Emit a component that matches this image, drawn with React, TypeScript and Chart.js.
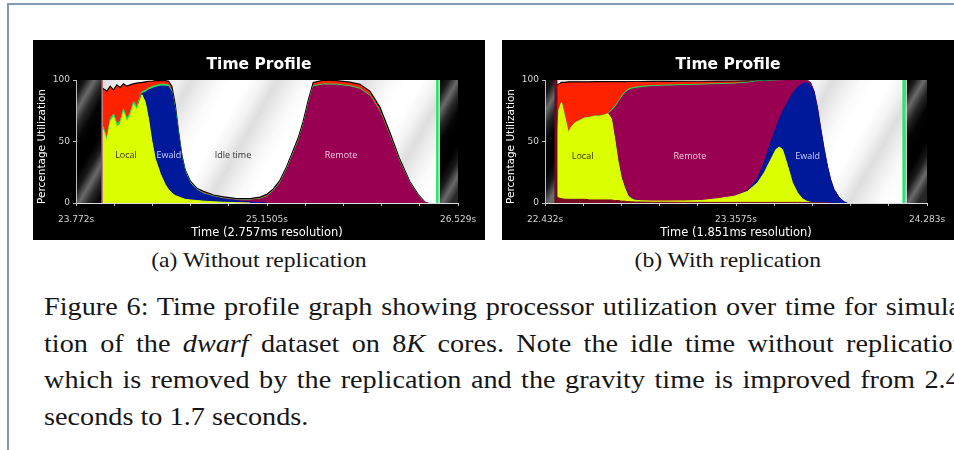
import React, { useEffect, useRef } from "react";
import { Chart, registerables } from "chart.js";

Chart.register(...registerables);

// ---------- (a) Without replication (2.757 ms bins), utilization in % ----------
const timesA = [
  23.967, 23.995, 24.019, 24.043, 24.067, 24.091, 24.115, 24.139, 24.163, 24.188,
  24.211, 24.248, 24.272, 24.296, 24.32, 24.344, 24.38, 24.416, 24.44, 24.464,
  24.488, 24.512, 24.536, 24.56, 24.596, 24.644, 24.692, 24.764, 24.836, 24.932,
  25.028, 25.1, 25.148, 25.196, 25.244, 25.292, 25.34, 25.376, 25.412, 25.448,
  25.484, 25.556, 25.652, 25.749, 25.821, 25.893, 25.965, 26.037, 26.109, 26.181,
  26.241, 26.289, 26.313,
];
const localA = [
  60, 50, 66, 70, 62, 64, 74, 66, 71, 80, 76, 88, 82, 68, 50, 36, 24, 15, 11, 8,
  6, 5, 4, 3, 2.5, 2, 1.5, 1, 0.6, 0.3, 0, 0, 0, 0, 0, 0, 0, 0, 0, 0,
  0, 0, 0, 0, 0, 0, 0, 0, 0, 0, 0, 0, 0,
];
const ewaldA = [
  0, 0, 0, 0, 0, 0, 0, 0, 0, 0, 0, 1, 8, 24, 43, 58, 71, 80, 83.5, 82,
  69, 50, 32, 22, 13.5, 8.5, 6, 4, 2.6, 1.5, 0.8, 0.4, 0, 0, 0, 0, 0, 0, 0, 0,
  0, 0, 0, 0, 0, 0, 0, 0, 0, 0, 0, 0, 0,
];
const remoteA = [
  0, 0, 0, 0, 0, 0, 0, 0, 0, 0, 0, 0, 0, 0, 0, 0, 0, 0, 0, 0,
  0, 0, 0, 0, 0, 0, 0, 0, 0.3, 0.5, 1.5, 2.8, 5, 9.5, 16, 27, 40, 50, 63, 80,
  94.5, 96, 95.8, 94.5, 92.5, 87, 74, 54, 33, 16, 6, 0.6, 0,
];
const otherA = [
  2.5, 2.5, 2.5, 2.5, 2.5, 2.5, 2.5, 2.5, 2.5, 2.5, 2.5, 1.5, 1.5, 1.5, 1.5, 1.5, 1.5, 1.5, 1.5, 1,
  1, 1, 1, 1, 0.8, 0.6, 0.5, 0.5, 0.4, 0.3, 0.3, 0.4, 0.5, 0.6, 0.7, 0.8, 0.8, 0.8, 0.8, 0.8,
  0.8, 0.8, 0.8, 0.8, 0.8, 0.8, 0.8, 0.7, 0.6, 0.5, 0.3, 0, 0,
];
const overheadA = [
  30.5, 38.5, 26.5, 19.5, 31.5, 27.5, 20.5, 26.5, 22.5, 14.5, 19, 7.5, 7, 5.5, 4.5, 4, 3, 3, 3, 4,
  4, 2, 2, 1, 1.2, 0.9, 1.5, 1, 1.1, 1.0, 1.0, 1.2, 1.5, 1.4, 1.8, 1.7, 2.2, 2.2, 2.7, 2.7,
  2.7, 3, 2.9, 2.9, 3.2, 3.2, 3.2, 2.8, 1.9, 1, 0.7, 0.2, 0,
];
const rangeA = [23.772, 26.529];
const runA = [23.959, 26.38];
const xTickLabelsA = ["23.772s", "25.1505s", "26.529s"];
const resolutionA = "2.757ms";
const noteTextsA = ["Local", "Ewald", "Idle time", "Remote"];
const noteTimesA = [24.133, 24.443, 24.905, 25.685];
const noteLevelsA = [39, 39, 39, 39];

// ---------- (b) With replication (1.851 ms bins), utilization in % ----------
const timesB = [
  22.488, 22.5, 22.512, 22.529, 22.545, 22.561, 22.577, 22.601, 22.625, 22.649,
  22.673, 22.698, 22.722, 22.738, 22.754, 22.77, 22.786, 22.802, 22.818, 22.834,
  22.851, 22.867, 22.899, 22.947, 23.028, 23.108, 23.189, 23.269, 23.35, 23.414,
  23.462, 23.494, 23.527, 23.551, 23.567, 23.583, 23.607, 23.631, 23.655, 23.679,
  23.7, 23.72, 23.736, 23.752, 23.768, 23.784, 23.8, 23.816, 23.832, 23.857,
  23.881, 23.897,
];
const miscB = [
  5, 4, 3.5, 3, 3, 3, 3, 3, 3, 2.5, 2.5, 2.5, 2.5, 2.5, 2.5, 2, 2, 1.5, 1.5, 1,
  1, 0.8, 0.8, 0.6, 0.6, 0.5, 0.5, 0.5, 0.5, 0.5, 0.5, 0.5, 0.5, 0.5, 0.5, 0.5, 0.5, 0.5, 0.5, 0.5,
  0.5, 0.3, 0.3, 0.2, 0.2, 0.2, 0.1, 0, 0, 0, 0, 0,
];
const localB = [
  40, 72, 78, 66, 54, 59, 62, 64, 66, 67, 68, 68, 69, 70, 66, 50, 32, 19, 11, 5,
  2.5, 1.5, 1, 1, 1, 1.2, 1.5, 3, 5, 9, 16, 24, 35, 43, 45, 43, 30, 16, 8, 3,
  1, 0.2, 0, 0, 0, 0, 0, 0, 0, 0, 0, 0,
];
const ewaldB = [
  0, 0, 0, 0, 0, 0, 0, 0, 0, 0, 0, 0, 0, 0, 0, 0.5, 1, 1, 1, 0.8,
  0.5, 0.3, 0, 0, 0, 0, 0, 0, 0, 0.5, 3.5, 8.5, 14.5, 17.5, 22.5, 30.5, 51.5, 72.5, 85.5, 93.5,
  96.5, 95.5, 89.7, 76.8, 60, 44, 30, 19, 11, 4.5, 1, 0,
];
const remoteB = [
  0, 0, 0, 0, 0, 0, 0, 0, 0, 0, 0, 0, 0, 0, 6, 25, 46, 64, 75.5, 84.5,
  88.5, 90.5, 92, 93, 93.5, 93.8, 93.8, 92.8, 91.2, 87.5, 78.7, 65.8, 49.1, 38.3, 31.4, 25.6, 17.6, 10.6, 5.6, 2.6,
  1.8, 1.5, 1, 0.8, 0.5, 0.3, 0.3, 0.2, 0.2, 0.1, 0, 0,
];
const otherB = [
  0.3, 0.3, 0.3, 0.3, 0.3, 0.3, 0.3, 0.3, 0.3, 0.3, 0.3, 0.3, 0.3, 0.3, 1.2, 1.2, 1.2, 1.2, 1.2, 1.2,
  1, 1, 1, 0.8, 0.8, 0.8, 0.7, 0.7, 0.6, 0.6, 0.5, 0.4, 0.3, 0.3, 0.2, 0.2, 0.2, 0.2, 0.2, 0.2,
  0.1, 0, 0, 0, 0, 0, 0, 0, 0, 0, 0, 0,
];
const overheadB = [
  50.7, 20.7, 16.2, 28.7, 41.2, 36.2, 33.2, 31.2, 29.2, 28.7, 27.8, 27.8, 26.8, 25.8, 22.9, 19.9, 16.5, 12, 8.5, 6.3,
  5.3, 4.7, 4, 3.5, 3, 2.7, 2.5, 2.1, 1.9, 1.2, 0.2, 0.3, 0.3, 0.2, 0.2, 0.2, 0.2, 0.2, 0.2, 0.2,
  0.1, 0, 0, 0, 0, 0, 0, 0, 0, 0, 0, 0,
];
const rangeB = [22.432, 24.283];
const runB = [22.485, 24.17];
const xTickLabelsB = ["22.432s", "23.3575s", "24.283s"];
const resolutionB = "1.851ms";
const noteTextsB = ["Local", "Remote", "Ewald"];
const noteTimesB = [22.614, 23.134, 23.705];
const noteLevelsB = [38, 38, 38];

const yTickValues = [0, 50, 100];

// ---------- styling ----------
const PALETTE: Record<string, string> = {
  Misc: "#7a0b24",
  Local: "#dcff00",
  Ewald: "#00199a",
  Remote: "#990052",
  Other: "#1fe060",
  Overhead: "#ff2200",
};
const NOTE_INK: Record<string, string> = {
  Local: "#33330a",
  Ewald: "#c9d0ff",
  "Idle time": "#333333",
  Remote: "#f3c6df",
};
const LIGHT_SHEEN = ["#ffffff", "#f3f3f3", "#dedede", "#eeeeee", "#fbfbfb", "#ffffff"];
const DARK_SHEEN = ["#000000", "#1a1a1a", "#6a6a6a", "#262626", "#050505", "#000000"];
const SANS = "DejaVu Sans";

type Layer = { name: string; values: number[] };
type PanelSpec = {
  times: number[];
  layers: Layer[];
  range: number[];
  run: number[];
  tickLabels: string[];
  resolution: string;
  startColor: string;
  startWidth: number;
  notes: { text: string; t: number; level: number }[];
};

const panelA: PanelSpec = {
  times: timesA,
  layers: [
    { name: "Local", values: localA },
    { name: "Ewald", values: ewaldA },
    { name: "Remote", values: remoteA },
    { name: "Other", values: otherA },
    { name: "Overhead", values: overheadA },
  ],
  range: rangeA,
  run: runA,
  tickLabels: xTickLabelsA,
  resolution: resolutionA,
  startColor: "#b03a3a",
  startWidth: 1.5,
  notes: noteTextsA.map((text, i) => ({ text, t: noteTimesA[i], level: noteLevelsA[i] })),
};

const panelB: PanelSpec = {
  times: timesB,
  layers: [
    { name: "Misc", values: miscB },
    { name: "Local", values: localB },
    { name: "Ewald", values: ewaldB },
    { name: "Remote", values: remoteB },
    { name: "Other", values: otherB },
    { name: "Overhead", values: overheadB },
  ],
  range: rangeB,
  run: runB,
  tickLabels: xTickLabelsB,
  resolution: resolutionB,
  startColor: "#6e0a1c",
  startWidth: 3,
  notes: noteTextsB.map((text, i) => ({ text, t: noteTimesB[i], level: noteLevelsB[i] })),
};

// Fill a rectangle with repeating diagonal ("/") sheen bands.
function sheen(
  ctx: CanvasRenderingContext2D,
  x0: number,
  y0: number,
  x1: number,
  y1: number,
  colors: string[],
  period: number
) {
  if (x1 <= x0) return;
  const ux = 0.866;
  const uy = 0.5;
  const len = (x1 - x0) * ux + (y1 - y0) * uy;
  const g = ctx.createLinearGradient(x0, y0, x0 + ux * len, y0 + uy * len);
  const n = colors.length;
  for (let k = 0; k * period <= len; k++) {
    for (let i = 0; i < n; i++) {
      const p = (k * period + (i / n) * period) / len;
      if (p <= 1) g.addColorStop(p, colors[i]);
    }
  }
  ctx.fillStyle = g;
  ctx.fillRect(x0, y0, x1 - x0, y1 - y0);
}

function profilePlugin(spec: PanelSpec) {
  return {
    id: "profileDecor",
    beforeDraw(chart: any) {
      const { ctx, chartArea: a } = chart;
      const x = chart.scales.x;
      const xs = x.getPixelForValue(spec.run[0]);
      const xe = x.getPixelForValue(spec.run[1]);
      ctx.save();
      sheen(ctx, a.left, a.top, a.right, a.bottom, LIGHT_SHEEN, 75);
      sheen(ctx, a.left, a.top, xs, a.bottom, DARK_SHEEN, 48);
      sheen(ctx, xe + 2, a.top, a.right, a.bottom, DARK_SHEEN, 48);
      ctx.restore();
    },
    afterDatasetsDraw(chart: any) {
      const { ctx, chartArea: a } = chart;
      const x = chart.scales.x;
      const y = chart.scales.y;
      const xs = x.getPixelForValue(spec.run[0]);
      const xe = x.getPixelForValue(spec.run[1]);
      ctx.save();
      // run start marker
      ctx.strokeStyle = spec.startColor;
      ctx.lineWidth = spec.startWidth;
      ctx.beginPath();
      ctx.moveTo(xs, a.top);
      ctx.lineTo(xs, a.bottom);
      ctx.stroke();
      // run end marker
      ctx.strokeStyle = "#1ee86a";
      ctx.lineWidth = 2.5;
      ctx.beginPath();
      ctx.moveTo(xe, a.top);
      ctx.lineTo(xe, a.bottom);
      ctx.stroke();
      ctx.strokeStyle = "#cfcfcf";
      ctx.lineWidth = 1;
      ctx.beginPath();
      ctx.moveTo(Math.round(xe + 2) + 0.5, a.top);
      ctx.lineTo(Math.round(xe + 2) + 0.5, a.bottom);
      ctx.stroke();
      // region names
      ctx.font = '9px "Open Sans", "DejaVu Sans", sans-serif';
      ctx.textAlign = "center";
      ctx.textBaseline = "middle";
      spec.notes.forEach((n) => {
        ctx.fillStyle = NOTE_INK[n.text] || "#333";
        ctx.fillText(n.text, x.getPixelForValue(n.t), y.getPixelForValue(n.level));
      });
      ctx.restore();
    },
    afterDraw(chart: any) {
      const { ctx, chartArea: a, width } = chart;
      ctx.save();
      ctx.fillStyle = "#ffffff";
      ctx.textAlign = "center";
      ctx.textBaseline = "middle";
      // panel heading, centred on the whole panel
      ctx.font = `bold 15.5px "${SANS}"`;
      ctx.fillText("Time Profile", width / 2, 24.5);
      // vertical axis caption
      ctx.font = `10.5px "${SANS}"`;
      ctx.translate(9.5, (a.top + a.bottom) / 2 + 5);
      ctx.rotate(-Math.PI / 2);
      ctx.fillText("Percentage Utilization", 0, 0);
      ctx.restore();
    },
  };
}

function buildConfig(spec: PanelSpec): any {
  const last = spec.layers.length - 1;
  // Each layer is filled from its stacked top down to zero; lower layers are
  // painted over higher ones, so neighbouring bands meet without seams.
  const datasets = spec.layers.map((layer, i) => {
    const color = PALETTE[layer.name];
    const edge = i === last ? "#000000" : color;
    return {
      label: layer.name,
      data: spec.times.map((t, j) => ({ x: t, y: layer.values[j] })),
      backgroundColor: color,
      borderColor: edge,
      borderWidth: i === last ? 1.2 : 1,
      pointRadius: 0,
      tension: 0,
      fill: "origin",
      segment: {
        borderColor: (c: any) =>
          layer.values[c.p0DataIndex] > 0 || layer.values[c.p1DataIndex] > 0
            ? edge
            : "rgba(0,0,0,0)",
      },
    };
  });

  const [xMin, xMax] = spec.range;

  return {
    type: "line",
    data: { datasets },
    options: {
      animation: false,
      responsive: false,
      events: [],
      layout: { padding: { left: 0, right: 27, top: 40, bottom: 0 } },
      plugins: {
        legend: { display: false },
        tooltip: { enabled: false },
        title: { display: false },
      },
      scales: {
        x: {
          type: "linear",
          min: xMin,
          max: xMax,
          afterBuildTicks: (s: any) => {
            s.ticks = Array.from({ length: 11 }, (_, k) => ({ value: xMin + ((xMax - xMin) * k) / 10 }));
          },
          afterFit: (s: any) => {
            s.height = 37;
            s.paddingLeft = 0;
            s.paddingRight = 0;
          },
          grid: { drawOnChartArea: false, drawTicks: true, tickLength: 3, color: "#bdbdbd" },
          border: { display: true, color: "#dcdcdc", width: 1 },
          ticks: {
            autoSkip: false,
            maxRotation: 0,
            padding: 8,
            color: "#d4d4d4",
            font: { family: SANS, size: 9 },
            callback: (_v: any, k: number) => (k % 5 === 0 ? spec.tickLabels[k / 5] : ""),
          },
          title: {
            display: true,
            text: `Time (${spec.resolution} resolution)`,
            color: "#ffffff",
            font: { family: SANS, size: 11.5 },
            padding: { top: 0, bottom: 0 },
          },
        },
        y: {
          type: "linear",
          stacked: true,
          min: 0,
          max: 100,
          afterBuildTicks: (s: any) => {
            s.ticks = yTickValues.map((v) => ({ value: v }));
          },
          afterFit: (s: any) => {
            s.width = 43;
            s.paddingTop = 0;
            s.paddingBottom = 0;
          },
          grid: { drawOnChartArea: false, drawTicks: true, tickLength: 3, color: "#bdbdbd" },
          border: { display: true, color: "#bdbdbd", width: 1 },
          ticks: { padding: 3, color: "#d4d4d4", font: { family: SANS, size: 9 } },
          title: { display: false },
        },
      },
    },
    plugins: [profilePlugin(spec)],
  };
}

function ProfilePanel({ spec, left, top }: { spec: PanelSpec; left: number; top: number }) {
  const ref = useRef<HTMLCanvasElement | null>(null);
  useEffect(() => {
    if (!ref.current) return;
    const chart = new Chart(ref.current, buildConfig(spec));
    return () => chart.destroy();
  }, [spec]);
  return (
    <div style={{ position: "absolute", left, top, width: 452, height: 200, background: "#000" }}>
      <canvas ref={ref} width={452} height={200} style={{ display: "block" }} />
    </div>
  );
}

const serif = '"Liberation Serif", "Times New Roman", serif';

function Caption({ left, text }: { left: number; text: string }) {
  return (
    <div
      style={{
        position: "absolute",
        left,
        top: 249.5,
        width: 452,
        textAlign: "center",
        fontFamily: serif,
        fontSize: 21.5,
        lineHeight: "21.5px",
        color: "#161616",
        whiteSpace: "nowrap",
      }}
    >
      <span style={{ display: "inline-block", transform: "scaleX(1.1)" }}>{text}</span>
    </div>
  );
}

function TextLine({ top, spacing, children }: { top: number; spacing: number; children: React.ReactNode }) {
  return (
    <div
      style={{
        position: "absolute",
        left: 44,
        top,
        fontFamily: serif,
        fontSize: 25,
        lineHeight: "25px",
        color: "#161616",
        whiteSpace: "nowrap",
        wordSpacing: spacing,
        transform: "scaleX(1.13)",
        transformOrigin: "0 0",
      }}
    >
      {children}
    </div>
  );
}

export default function App() {
  return (
    <div
      style={{
        position: "fixed",
        left: 0,
        top: 0,
        width: 954,
        height: 450,
        overflow: "hidden",
        background: "#ffffff",
      }}
    >
      <div
        style={{
          position: "absolute",
          left: 7,
          top: 3,
          width: 960,
          height: 460,
          borderTop: "2px solid #8399b6",
          borderLeft: "2px solid #8399b6",
        }}
      />
      <ProfilePanel spec={panelA} left={33} top={40} />
      <ProfilePanel spec={panelB} left={502} top={40} />
      <Caption left={33} text="(a) Without replication" />
      <Caption left={502} text="(b) With replication" />
      <TextLine top={294.1} spacing={1.5}>
        Figure 6: Time profile graph showing processor utilization over time for simula-
      </TextLine>
      <TextLine top={330.8} spacing={4.6}>
        tion of the <i>dwarf</i> dataset on 8<i>K</i> cores. Note the idle time without replication,
      </TextLine>
      <TextLine top={367.4} spacing={2.1}>
        which is removed by the replication and the gravity time is improved from 2.4
      </TextLine>
      <TextLine top={404.1} spacing={0}>
        seconds to 1.7 seconds.
      </TextLine>
    </div>
  );
}
